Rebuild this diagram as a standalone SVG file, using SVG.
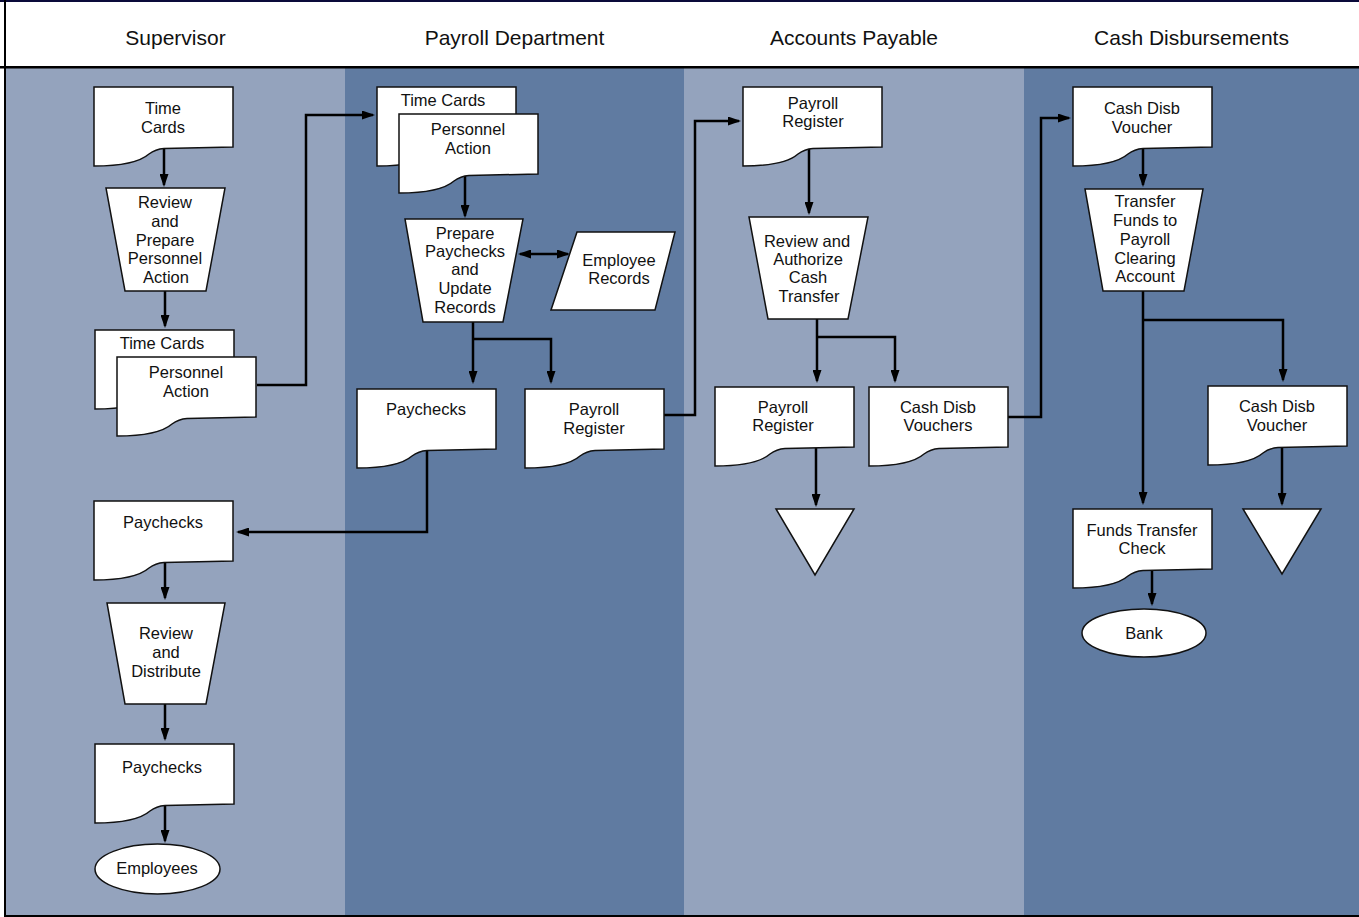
<svg xmlns="http://www.w3.org/2000/svg" xmlns:xlink="http://www.w3.org/1999/xlink" width="1359" height="917" viewBox="0 0 1359 917">
<style>
.lane-l{fill:#94a3bd}
.lane-d{fill:#607ba1}
.shape{fill:#ffffff;stroke:#111111;stroke-width:1.5}
.hdr{font-family:"Liberation Sans",Arial,sans-serif;font-size:21px;fill:#111111;text-anchor:middle}
.lbl{font-family:"Liberation Sans",Arial,sans-serif;font-size:16.5px;fill:#111111;text-anchor:middle}
.conn{fill:none;stroke:#000000;stroke-width:2.5}
</style>
<defs>
<marker id="ah" markerWidth="13" markerHeight="9" refX="11" refY="4.5" orient="auto-start-reverse" markerUnits="userSpaceOnUse">
<path d="M0,0 L13,4.5 L0,9 Z" fill="#000000"/>
</marker>
<path id="doc" d="M0,0 H139 V60 L70,61.5 C63,62 59,64 55,67 C47,74 28,79 0,79 Z"/>
</defs>

<g id="background">
<rect x="0" y="0" width="1359" height="917" fill="#ffffff"/>
<rect class="lane-l" x="6" y="68" width="339" height="847"/>
<rect class="lane-d" x="345" y="68" width="339" height="847"/>
<rect class="lane-l" x="684" y="68" width="340" height="847"/>
<rect class="lane-d" x="1024" y="68" width="335" height="847"/>
<rect x="0" y="0" width="1359" height="2" fill="#0a0a3a"/>
<rect x="0" y="66" width="1359" height="2.5" fill="#000000"/>
<rect x="4" y="0" width="2" height="917" fill="#000000"/>
<rect x="4" y="915" width="1355" height="2" fill="#000000"/>
</g>

<g id="headers">
<text class="hdr" x="175.5" y="45">Supervisor</text>
<text class="hdr" x="514.5" y="45">Payroll Department</text>
<text class="hdr" x="854" y="45">Accounts Payable</text>
<text class="hdr" x="1191.5" y="45">Cash Disbursements</text>
</g>

<g id="connectors">
<path class="conn" marker-end="url(#ah)" d="M164,147 V185"/>
<path class="conn" marker-end="url(#ah)" d="M165,291 V326"/>
<path class="conn" marker-end="url(#ah)" d="M257,385 H306 V115 H373"/>
<path class="conn" marker-end="url(#ah)" d="M465,174 V216"/>
<path class="conn" marker-start="url(#ah)" marker-end="url(#ah)" d="M520,254 H568"/>
<path class="conn" marker-end="url(#ah)" d="M473,322 V382"/>
<path class="conn" marker-end="url(#ah)" d="M473,339 H551 V382"/>
<path class="conn" marker-end="url(#ah)" d="M664,415 H695 V121 H739"/>
<path class="conn" marker-end="url(#ah)" d="M427,448 V532 H238"/>
<path class="conn" marker-end="url(#ah)" d="M165,560 V598"/>
<path class="conn" marker-end="url(#ah)" d="M165,704 V739"/>
<path class="conn" marker-end="url(#ah)" d="M165,803 V841"/>
<path class="conn" marker-end="url(#ah)" d="M809,148 V213"/>
<path class="conn" marker-end="url(#ah)" d="M817,319 V381"/>
<path class="conn" marker-end="url(#ah)" d="M817,337 H895 V381"/>
<path class="conn" marker-end="url(#ah)" d="M816,446 V505"/>
<path class="conn" marker-end="url(#ah)" d="M1008,417 H1041 V118 H1069"/>
<path class="conn" marker-end="url(#ah)" d="M1143,147 V185"/>
<path class="conn" marker-end="url(#ah)" d="M1143,291 V503"/>
<path class="conn" marker-end="url(#ah)" d="M1143,320 H1283 V380"/>
<path class="conn" marker-end="url(#ah)" d="M1282,445 V504"/>
<path class="conn" marker-end="url(#ah)" d="M1152,568 V604"/>
</g>

<g id="sup-timecards">
<use href="#doc" xlink:href="#doc" class="shape" x="94" y="87"/>
<text class="lbl" x="163" y="114">Time</text>
<text class="lbl" x="163" y="133">Cards</text>
</g>

<g id="sup-review-prepare">
<polygon class="shape" points="106,188 225,188 206,291 125,291"/>
<text class="lbl" x="165" y="207.5">Review</text>
<text class="lbl" x="165" y="226.5">and</text>
<text class="lbl" x="165" y="245.5">Prepare</text>
<text class="lbl" x="165" y="264">Personnel</text>
<text class="lbl" x="166" y="282.5">Action</text>
</g>

<g id="sup-timecards-2">
<use href="#doc" xlink:href="#doc" class="shape" x="95" y="330"/>
<text class="lbl" x="162" y="349">Time Cards</text>
</g>

<g id="sup-personnel-action">
<use href="#doc" xlink:href="#doc" class="shape" x="117" y="357"/>
<text class="lbl" x="186" y="378">Personnel</text>
<text class="lbl" x="186" y="397">Action</text>
</g>

<g id="pay-timecards">
<use href="#doc" xlink:href="#doc" class="shape" x="377" y="87"/>
<text class="lbl" x="443" y="106">Time Cards</text>
</g>

<g id="pay-personnel-action">
<use href="#doc" xlink:href="#doc" class="shape" x="399" y="114"/>
<text class="lbl" x="468" y="135">Personnel</text>
<text class="lbl" x="468" y="154">Action</text>
</g>

<g id="pay-prepare">
<polygon class="shape" points="405,219 523,219 503,322 423,322"/>
<text class="lbl" x="465" y="238.5">Prepare</text>
<text class="lbl" x="465" y="257">Paychecks</text>
<text class="lbl" x="465" y="275">and</text>
<text class="lbl" x="465" y="294">Update</text>
<text class="lbl" x="465" y="312.5">Records</text>
</g>

<g id="pay-employee-records">
<polygon class="shape" points="577,232 675,232 655,310 551,310"/>
<text class="lbl" x="619" y="266">Employee</text>
<text class="lbl" x="619" y="284">Records</text>
</g>

<g id="pay-paychecks">
<use href="#doc" xlink:href="#doc" class="shape" x="357" y="389"/>
<text class="lbl" x="426" y="415">Paychecks</text>
</g>

<g id="pay-register">
<use href="#doc" xlink:href="#doc" class="shape" x="525" y="389"/>
<text class="lbl" x="594" y="415">Payroll</text>
<text class="lbl" x="594" y="434">Register</text>
</g>

<g id="sup-paychecks">
<use href="#doc" xlink:href="#doc" class="shape" x="94" y="501"/>
<text class="lbl" x="163" y="527.5">Paychecks</text>
</g>

<g id="sup-review-distribute">
<polygon class="shape" points="107,603 225,603 206,704 125,704"/>
<text class="lbl" x="166" y="639">Review</text>
<text class="lbl" x="166" y="658">and</text>
<text class="lbl" x="166" y="677">Distribute</text>
</g>

<g id="sup-paychecks-2">
<use href="#doc" xlink:href="#doc" class="shape" x="95" y="744"/>
<text class="lbl" x="162" y="773">Paychecks</text>
</g>

<g id="sup-employees">
<ellipse class="shape" cx="157.5" cy="869" rx="62.5" ry="25"/>
<text class="lbl" x="157" y="874">Employees</text>
</g>

<g id="ap-register">
<use href="#doc" xlink:href="#doc" class="shape" x="743" y="87"/>
<text class="lbl" x="813" y="109">Payroll</text>
<text class="lbl" x="813" y="127">Register</text>
</g>

<g id="ap-review-authorize">
<polygon class="shape" points="749,217 868,217 848,319 768,319"/>
<text class="lbl" x="807" y="246.5">Review and</text>
<text class="lbl" x="808" y="265">Authorize</text>
<text class="lbl" x="808" y="283">Cash</text>
<text class="lbl" x="809" y="302">Transfer</text>
</g>

<g id="ap-register-2">
<use href="#doc" xlink:href="#doc" class="shape" x="715" y="387"/>
<text class="lbl" x="783" y="413">Payroll</text>
<text class="lbl" x="783" y="431">Register</text>
</g>

<g id="ap-vouchers">
<use href="#doc" xlink:href="#doc" class="shape" x="869" y="387"/>
<text class="lbl" x="938" y="413">Cash Disb</text>
<text class="lbl" x="938" y="431">Vouchers</text>
</g>

<g id="ap-file">
<polygon class="shape" points="776,509 854,509 815,575"/>
</g>

<g id="cd-voucher">
<use href="#doc" xlink:href="#doc" class="shape" x="1073" y="87"/>
<text class="lbl" x="1142" y="114">Cash Disb</text>
<text class="lbl" x="1142" y="133">Voucher</text>
</g>

<g id="cd-transfer">
<polygon class="shape" points="1085,189 1203,189 1184,291 1103,291"/>
<text class="lbl" x="1145" y="207">Transfer</text>
<text class="lbl" x="1145" y="226">Funds to</text>
<text class="lbl" x="1145" y="245">Payroll</text>
<text class="lbl" x="1145" y="263.5">Clearing</text>
<text class="lbl" x="1145" y="282">Account</text>
</g>

<g id="cd-voucher-2">
<use href="#doc" xlink:href="#doc" class="shape" x="1208" y="386"/>
<text class="lbl" x="1277" y="411.5">Cash Disb</text>
<text class="lbl" x="1277" y="431">Voucher</text>
</g>

<g id="cd-file">
<polygon class="shape" points="1243,509 1321,509 1282,574"/>
</g>

<g id="cd-funds-check">
<use href="#doc" xlink:href="#doc" class="shape" x="1073" y="509"/>
<text class="lbl" x="1142" y="535.5">Funds Transfer</text>
<text class="lbl" x="1142" y="554">Check</text>
</g>

<g id="cd-bank">
<ellipse class="shape" cx="1144" cy="633" rx="62" ry="24"/>
<text class="lbl" x="1144" y="639">Bank</text>
</g>
</svg>
